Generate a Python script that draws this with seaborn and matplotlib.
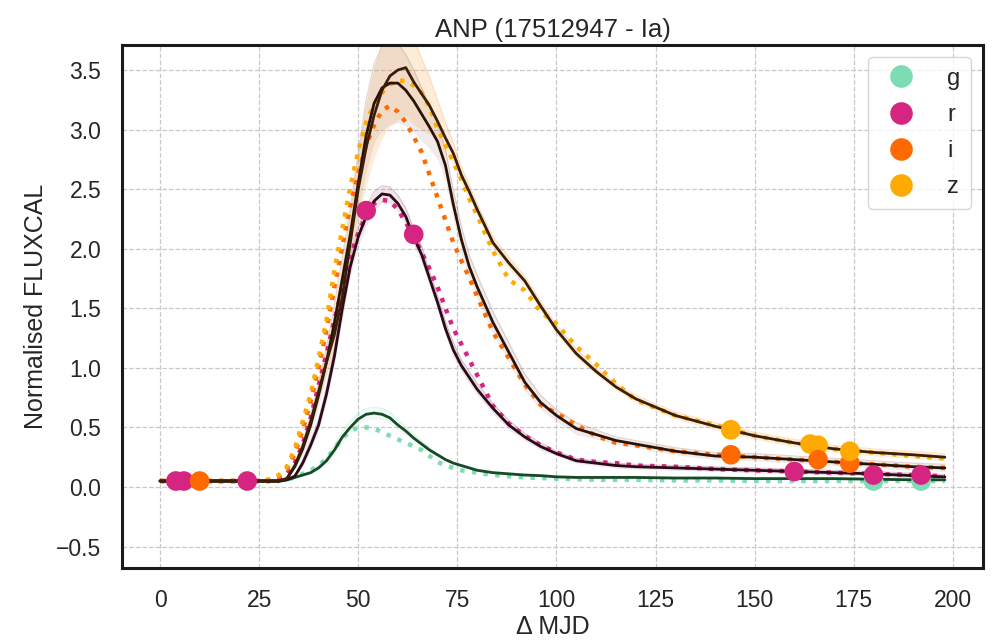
import matplotlib
matplotlib.use("Agg")
import matplotlib.pyplot as plt
import seaborn as sns
import numpy as np
import pandas as pd

# time grid (Delta MJD) shared by all curves
mjd = [0, 10, 20, 26, 28, 30, 32, 34, 36, 38, 40, 42, 44, 46, 48, 50, 52, 54, 56, 58,
       60, 62, 64, 66, 68, 70, 72, 74, 76, 78, 80, 84, 88, 92, 96, 100, 105, 110, 115,
       120, 130, 140, 150, 160, 170, 180, 190, 198]

# predicted (solid) curves
pred_g = [0.05, 0.05, 0.05, 0.05, 0.05, 0.05, 0.06, 0.08, 0.10, 0.12, 0.16, 0.22, 0.31, 0.42,
          0.50, 0.57, 0.61, 0.62, 0.61, 0.58, 0.52, 0.47, 0.41, 0.36, 0.31, 0.27, 0.23, 0.20,
          0.18, 0.16, 0.14, 0.12, 0.11, 0.10, 0.095, 0.085, 0.08, 0.08, 0.08, 0.08, 0.075,
          0.075, 0.07, 0.07, 0.07, 0.065, 0.06, 0.06]
pred_r = [0.05, 0.05, 0.05, 0.05, 0.05, 0.05, 0.06, 0.09, 0.20, 0.35, 0.52, 0.78, 1.10, 1.50,
          1.85, 2.10, 2.27, 2.40, 2.46, 2.45, 2.38, 2.27, 2.10, 1.95, 1.75, 1.55, 1.33, 1.15,
          1.02, 0.92, 0.82, 0.66, 0.52, 0.42, 0.34, 0.28, 0.22, 0.20, 0.18, 0.17, 0.16, 0.15,
          0.14, 0.13, 0.12, 0.11, 0.095, 0.085]
pred_i = [0.05, 0.05, 0.05, 0.05, 0.05, 0.05, 0.07, 0.17, 0.32, 0.52, 0.77, 1.05, 1.38, 1.75,
          2.12, 2.55, 2.95, 3.22, 3.35, 3.39, 3.39, 3.33, 3.24, 3.13, 3.02, 2.90, 2.70, 2.37,
          2.08, 1.85, 1.68, 1.38, 1.13, 0.88, 0.71, 0.60, 0.49, 0.44, 0.39, 0.36, 0.30, 0.26,
          0.25, 0.23, 0.21, 0.19, 0.17, 0.16]
pred_z = [0.05, 0.05, 0.05, 0.05, 0.05, 0.05, 0.07, 0.18, 0.34, 0.55, 0.80, 1.05, 1.28, 1.60,
          2.05, 2.50, 2.85, 3.12, 3.33, 3.45, 3.50, 3.52, 3.40, 3.30, 3.20, 3.07, 2.93, 2.80,
          2.62, 2.48, 2.33, 2.05, 1.88, 1.73, 1.52, 1.32, 1.12, 0.97, 0.84, 0.74, 0.60, 0.51,
          0.43, 0.37, 0.32, 0.29, 0.27, 0.25]

# true (dotted) curves
true_g = [0.05, 0.05, 0.05, 0.05, 0.05, 0.05, 0.06, 0.08, 0.11, 0.14, 0.18, 0.24, 0.32, 0.41,
          0.47, 0.50, 0.50, 0.49, 0.46, 0.43, 0.40, 0.37, 0.34, 0.31, 0.26, 0.21, 0.18, 0.16,
          0.14, 0.13, 0.12, 0.10, 0.09, 0.08, 0.075, 0.07, 0.065, 0.06, 0.06, 0.06, 0.055,
          0.055, 0.05, 0.05, 0.05, 0.05, 0.05, 0.05]
true_r = [0.05, 0.05, 0.05, 0.05, 0.05, 0.07, 0.11, 0.20, 0.36, 0.58, 0.85, 1.12, 1.40, 1.67,
          1.93, 2.13, 2.28, 2.38, 2.41, 2.40, 2.33, 2.22, 2.10, 1.97, 1.83, 1.68, 1.50, 1.33,
          1.20, 1.07, 0.94, 0.68, 0.53, 0.43, 0.35, 0.29, 0.23, 0.21, 0.20, 0.18, 0.17, 0.15,
          0.14, 0.13, 0.12, 0.11, 0.10, 0.09]
true_i = [0.05, 0.05, 0.05, 0.05, 0.06, 0.09, 0.15, 0.28, 0.48, 0.72, 1.00, 1.32, 1.68, 2.02,
          2.36, 2.63, 2.87, 3.04, 3.16, 3.20, 3.15, 3.06, 2.94, 2.81, 2.62, 2.43, 2.24, 2.05,
          1.90, 1.76, 1.60, 1.30, 1.08, 0.86, 0.69, 0.62, 0.52, 0.43, 0.37, 0.35, 0.30, 0.27,
          0.25, 0.23, 0.21, 0.19, 0.17, 0.16]
true_z = [0.05, 0.05, 0.05, 0.05, 0.07, 0.10, 0.17, 0.32, 0.55, 0.78, 1.08, 1.40, 1.82, 2.17,
          2.52, 2.82, 3.06, 3.21, 3.31, 3.38, 3.41, 3.41, 3.37, 3.31, 3.19, 3.01, 2.87, 2.73,
          2.58, 2.42, 2.28, 1.98, 1.74, 1.65, 1.47, 1.37, 1.18, 1.03, 0.87, 0.73, 0.60, 0.52,
          0.43, 0.37, 0.32, 0.29, 0.26, 0.24]

# half-width of the uncertainty band around each prediction
sig_g = [0.01] * 10 + [0.02, 0.03, 0.04, 0.05, 0.05, 0.05, 0.05, 0.05, 0.05, 0.05, 0.04, 0.04,
         0.03, 0.03, 0.02] + [0.01] * 23
sig_r = [0.01] * 8 + [0.03, 0.04, 0.05, 0.06, 0.07, 0.08, 0.08, 0.08, 0.08, 0.08, 0.07, 0.07,
         0.07, 0.07, 0.07, 0.07, 0.06, 0.06, 0.06, 0.06, 0.05, 0.05, 0.05, 0.04, 0.04, 0.03,
         0.03, 0.02] + [0.02] * 12
sig_i = [0.01] * 8 + [0.05, 0.08, 0.10, 0.12, 0.15, 0.18, 0.22, 0.26, 0.30, 0.33, 0.35, 0.35,
         0.33, 0.30, 0.26, 0.22, 0.18, 0.15, 0.13, 0.12, 0.11, 0.10, 0.10, 0.09, 0.08, 0.07,
         0.06, 0.05, 0.05, 0.04] + [0.03] * 10
sig_z = [0.01] * 8 + [0.04, 0.05, 0.07, 0.10, 0.14, 0.18, 0.22, 0.27, 0.32, 0.36, 0.40, 0.42,
         0.42, 0.40, 0.36, 0.30, 0.24, 0.18, 0.13, 0.09, 0.07, 0.06, 0.05, 0.05, 0.05, 0.04,
         0.04, 0.04, 0.04, 0.03] + [0.03] * 10

# observations
obs_band = ["r", "r", "i", "r", "r", "r", "i", "z", "z", "z", "i", "i", "z", "r",
            "g", "r", "g", "r"]
obs_mjd = [4, 6, 10, 22, 52, 64, 144, 144, 164, 166, 166, 174, 174, 160,
           180, 180, 192, 192]
obs_flux = [0.05, 0.05, 0.05, 0.05, 2.32, 2.12, 0.27, 0.48, 0.36, 0.35, 0.23, 0.20, 0.30, 0.13,
            0.05, 0.10, 0.05, 0.10]

bands = ["g", "r", "i", "z"]
band_colors = {"g": "#7ddcb4", "r": "#d62580", "i": "#ff6a00", "z": "#ffaa00"}
dark_colors = {"g": "#174a26", "r": "#2c0a18", "i": "#2b1205", "z": "#3a1e06"}
band_fill = {"g": ("#7ddcb4", 0.12), "r": ("#7a2a5a", 0.12),
             "i": ("#8a5a55", 0.12), "z": ("#f5a040", 0.2)}

pred = {"g": pred_g, "r": pred_r, "i": pred_i, "z": pred_z}
true = {"g": true_g, "r": true_r, "i": true_i, "z": true_z}
sig = {"g": sig_g, "r": sig_r, "i": sig_i, "z": sig_z}

rows = []
for b in bands:
    for t, p, tr in zip(mjd, pred[b], true[b]):
        rows.append({"mjd": t, "band": b, "pred": p, "true": tr})
curves = pd.DataFrame(rows)
obs = pd.DataFrame({"mjd": obs_mjd, "flux": obs_flux, "band": obs_band})

sns.set_theme(style="ticks")
plt.rcParams["font.family"] = ["Liberation Sans", "DejaVu Sans"]

fig = plt.figure(figsize=(9.94, 6.42), dpi=100)
ax = fig.add_axes([0.1227, 0.1153, 0.8662, 0.8146])
ax.grid(True, linestyle="--", color="#c8c8c8", linewidth=0.9)
ax.set_axisbelow(True)

for b in bands:
    lo = np.array(pred[b]) - np.array(sig[b])
    hi = np.array(pred[b]) + np.array(sig[b])
    col, a = band_fill[b]
    ax.fill_between(mjd, lo, hi, color=col, alpha=a, linewidth=0, zorder=1)
    ax.plot(mjd, hi, color=col, alpha=0.25, linewidth=0.8, zorder=1)

sns.lineplot(data=curves, x="mjd", y="true", hue="band", palette=band_colors,
             linestyle=":", linewidth=3.2, legend=False, ax=ax, zorder=2)
sns.lineplot(data=curves, x="mjd", y="pred", hue="band", palette=dark_colors,
             linewidth=2.0, legend=False, ax=ax, zorder=3)
sns.scatterplot(data=obs, x="mjd", y="flux", hue="band", hue_order=bands,
                palette=band_colors, s=200, edgecolor="none", ax=ax, zorder=4)

ax.set_xlim(-9.6, 207.6)
ax.set_ylim(-0.68, 3.71)
ax.set_xticks([0, 25, 50, 75, 100, 125, 150, 175, 200])
ax.set_yticks([-0.5, 0.0, 0.5, 1.0, 1.5, 2.0, 2.5, 3.0, 3.5])
ax.set_yticklabels(["\u22120.5", "0.0", "0.5", "1.0", "1.5", "2.0", "2.5", "3.0", "3.5"])
ax.tick_params(labelsize=16.5, length=0, pad=15)
ax.set_xlabel("\u0394 MJD", fontsize=18, labelpad=2)
ax.set_ylabel("Normalised FLUXCAL", fontsize=18, labelpad=6)
ax.set_title("ANP (17512947 - Ia)", fontsize=18.5, pad=6)
for sp in ax.spines.values():
    sp.set_linewidth(2.2)
    sp.set_color("#1a1a1a")

leg = ax.legend(loc="upper right", fontsize=17, frameon=True, title=None,
                handlelength=1.9, handletextpad=1.0, labelspacing=0.6, borderpad=0.45,
                borderaxespad=0, bbox_to_anchor=(0.986, 0.977), markerscale=1.15)
leg.get_frame().set_edgecolor("#cccccc")

fig.savefig("out.png", dpi=100)
